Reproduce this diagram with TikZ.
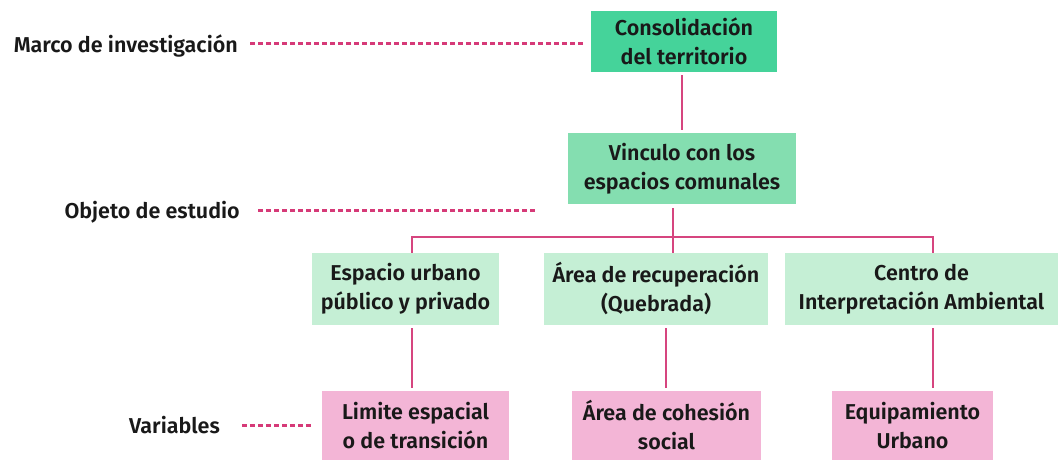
\documentclass[tikz,border=0pt]{standalone}
\usepackage{fontspec}
\setmainfont{Fira Sans SemiBold}
\begin{document}
\begin{tikzpicture}[x=1pt,y=1pt,
  box/.style={draw=none,rectangle,align=center,inner sep=0pt,font=\fontsize{21.5}{29}\selectfont,text=black!90},
  g1/.style={box,fill=cons},
  g2/.style={box,fill=vinc},
  g3/.style={box,fill=lgreen},
  pk/.style={box,fill=lpink},
  lbl/.style={font=\fontsize{21.5}{26}\selectfont,anchor=east,inner sep=0pt,text=black!90},
  conn/.style={draw=lnk,line width=1.8pt},
  dsh/.style={draw=dsc,line width=3pt,dash pattern=on 5pt off 3pt}]
\definecolor{cons}{RGB}{69,211,154}
\definecolor{vinc}{RGB}{132,222,176}
\definecolor{lgreen}{RGB}{197,239,213}
\definecolor{lpink}{RGB}{243,181,214}
\definecolor{lnk}{RGB}{214,69,127}
\definecolor{dsc}{RGB}{214,58,120}
\useasboundingbox (0,0) rectangle (1063,-460);
\fill[white] (0,0) rectangle (1063,-460);
\node[g1,minimum width=186,minimum height=61] (cons) at (684,-41.5) {Consolidación\\del territorio};
\node[g2,minimum width=228,minimum height=71] (vinc) at (682,-168.5) {Vinculo con los\\espacios comunales};
\node[g3,minimum width=187,minimum height=72] (esp) at (405.5,-289) {Espacio urbano\\público y privado};
\node[g3,minimum width=224,minimum height=72] (area) at (656,-289) {Área de recuperación\\(Quebrada)};
\node[g3,minimum width=273,minimum height=72] (centro) at (921.5,-289) {Centro de\\Interpretación Ambiental};
\node[pk,minimum width=187,minimum height=69] (lim) at (415.5,-425.5) {Limite espacial\\o de transición};
\node[pk,minimum width=189,minimum height=69] (coh) at (666.5,-425.5) {Área de cohesión\\social};
\node[pk,minimum width=161,minimum height=69] (equip) at (912.5,-425.5) {Equipamiento\\Urbano};
\node[lbl] (marco) at (238,-46) {Marco de investigación};
\node[lbl] (objeto) at (240,-212) {Objeto de estudio};
\node[lbl] (vars) at (220,-425) {Variables};
% dashed leaders
\coordinate (m1) at (250,-44); \coordinate (m2) at (585,-44);
\coordinate (o1) at (258,-210); \coordinate (o2) at (537,-210);
\coordinate (v1) at (242,-425); \coordinate (v2) at (312,-425);
\draw[dsh] (m1) -- (m2);
\draw[dsh] (o1) -- (o2);
\draw[dsh] (v1) -- (v2);
% connectors
\coordinate (xc) at (682,0);
\draw[conn] ([yshift=-3]cons.south -| xc) -- ([yshift=3]vinc.north -| xc);
\coordinate (hb) at (673,-237);
\coordinate (hl) at (412,-237);
\coordinate (hm) at (673,-237);
\coordinate (hr) at (933,-237);
\draw[conn] ([yshift=-4]vinc.south -| hb) -- (hb);
\draw[conn] (hl |- esp.north) -- (hl) -- (hr) -- (hr |- centro.north);
\draw[conn] (hm) -- (hm |- area.north);
\draw[conn] ([yshift=-3]esp.south -| hl) -- ([yshift=3]lim.north -| hl);
\coordinate (xm) at (666,0);
\coordinate (xr) at (933,0);
\draw[conn] ([yshift=-3]area.south -| xm) -- ([yshift=3]coh.north -| xm);
\draw[conn] ([yshift=-3]centro.south -| xr) -- ([yshift=3]equip.north -| xr);
\end{tikzpicture}
\end{document}
